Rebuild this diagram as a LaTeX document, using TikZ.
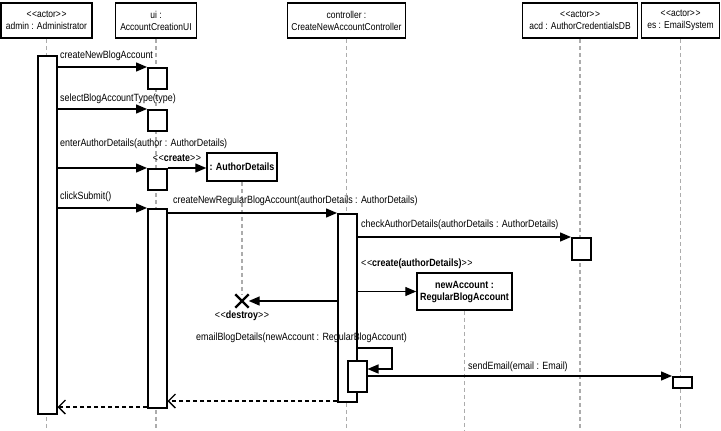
\documentclass[tikz,border=0pt]{standalone}
\usepackage{fontspec}
\setmainfont{Liberation Sans}[FakeStretch=0.85]
\usetikzlibrary{arrows.meta,shapes.misc}
\newcommand{\gl}{<\kern0.6pt<}
\newcommand{\gr}{>\kern0.6pt>}
\begin{document}
\begin{tikzpicture}[x=1pt,y=-1pt, font=\fontsize{10.5}{12}\selectfont,
 head/.style={draw, line width=1.6pt, fill=white, align=center, inner sep=0pt, minimum height=35pt, font=\fontsize{10}{12}\selectfont},
 life/.style={draw=gray!65, dash pattern=on 4pt off 3pt, line width=1.3pt},
 act/.style={draw, line width=1.5pt, fill=white, inner sep=0pt, minimum width=19pt, anchor=north west},
 obj/.style={draw, line width=1.5pt, fill=white, align=center, inner sep=0pt, font=\fontsize{10.5}{12}\selectfont\bfseries},
 msg/.style={line width=1.4pt, -{Triangle[length=11pt,width=9pt]}},
 ret/.style={line width=1.3pt, dash pattern=on 4pt off 3pt, -{Straight Barb[length=7pt,width=14pt,line width=1.3pt]}},
 lbl/.style={inner sep=0pt, anchor=west}]
\useasboundingbox (0,0) rectangle (721,431);
\coordinate (bot) at (0,431);
% headers
\node[head, minimum width=91pt] (admin) at (46.5,20.5) {\gl actor\gr\\admin : Administrator};
\node[head, minimum width=81pt] (ui) at (156,20.5) {ui :\\AccountCreationUI};
\node[head, minimum width=118pt] (ctrl) at (346.5,20.5) {controller :\\CreateNewAccountController};
\node[head, minimum width=115pt] (acd) at (580,20.5) {\gl actor\gr\\acd : AuthorCredentialsDB};
\node[head, minimum width=78pt] (es) at (680.5,20.5) {\gl actor\gr\\es : EmailSystem};
% lifelines
\draw[life] (admin.south) -- (admin.south |- bot);
\draw[life] (ui.south) -- (ui.south |- bot);
\draw[life] (ctrl.south) -- (ctrl.south |- bot);
\draw[life] (acd.south) -- (acd.south |- bot);
\draw[life] (es.south) -- (es.south |- bot);
% created objects
\node[obj, minimum width=70pt, minimum height=28pt] (ad) at (242,167) {: AuthorDetails};
\node[cross out, draw, line width=2.4pt, minimum size=11pt, inner sep=0pt] (x) at (242,301) {};
\draw[life] (ad.south) -- (x.north);
\node[obj, minimum width=95pt, minimum height=37pt] (na) at (464.5,291.5) {newAccount :\\RegularBlogAccount};
\draw[life] (na.south) -- (na.south |- bot);
% activations
\node[act, minimum height=358pt] (a0) at (37,55) {};
\node[act, minimum height=21pt] (u1) at (147,67) {};
\node[act, minimum height=21pt] (u2) at (147,109) {};
\node[act, minimum height=21pt] (u3) at (147,168) {};
\node[act, minimum height=199pt] (u4) at (147,208) {};
\node[act, minimum height=188pt] (c1) at (337,213) {};
\node[act, minimum height=31pt] (c2) at (347,360) {};
\node[act, minimum height=22pt] (acd1) at (571,237) {};
\node[act, minimum height=11pt] (es1) at (672,376) {};
% messages
\draw[msg] (a0.east |- u1.north) -- (u1.north west);
\node[lbl] (l1) at (60,56) {createNewBlogAccount};
\draw[msg] (a0.east |- u2.north) -- (u2.north west);
\node[lbl] (l2) at (60,99) {selectBlogAccountType(type)};
\draw[msg] (a0.east |- u3.north) -- (u3.north west);
\node[lbl] (l3) at (60,144) {enterAuthorDetails(author : AuthorDetails)};
\draw[msg] (u3.north east) -- (ad.west |- u3.north);
\node[inner sep=0pt] (l4) at (177,158) {\gl\textbf{create}\gr};
\draw[msg] (a0.east |- u4.north) -- (u4.north west);
\node[lbl] (l5) at (60,197) {clickSubmit()};
\draw[msg] (u4.east |- c1.north) -- (c1.north west);
\node[lbl] (l6) at (173,201) {createNewRegularBlogAccount(authorDetails : AuthorDetails)};
\draw[msg] (c1.east |- acd1.north) -- (acd1.north west);
\node[lbl] (l7) at (361,225) {checkAuthorDetails(authorDetails : AuthorDetails)};
\draw[msg] (c1.east |- na.west) -- (na.west);
\node[lbl] (l8) at (361,264) {\gl\textbf{create(authorDetails)}\gr};
\draw[msg] (c1.west |- x.center) -- (x.east);
\node[inner sep=0pt] (l9) at (242,316) {\gl\textbf{destroy}\gr};
\node[lbl] (l10) at (196,338) {emailBlogDetails(newAccount : RegularBlogAccount)};
\draw[msg] (c1.east |- 0,348) -| (392,369) -- (c2.east |- 0,369);
\draw[msg] (c2.east |- es1.north) -- (es1.north west);
\node[lbl] (l11) at (468,367) {sendEmail(email : Email)};
% returns
\draw[ret] (c1.west |- 0,401) -- (u4.east |- 0,401);
\draw[ret] (u4.west |- 0,407) -- (a0.east |- 0,407);
\end{tikzpicture}
\end{document}
